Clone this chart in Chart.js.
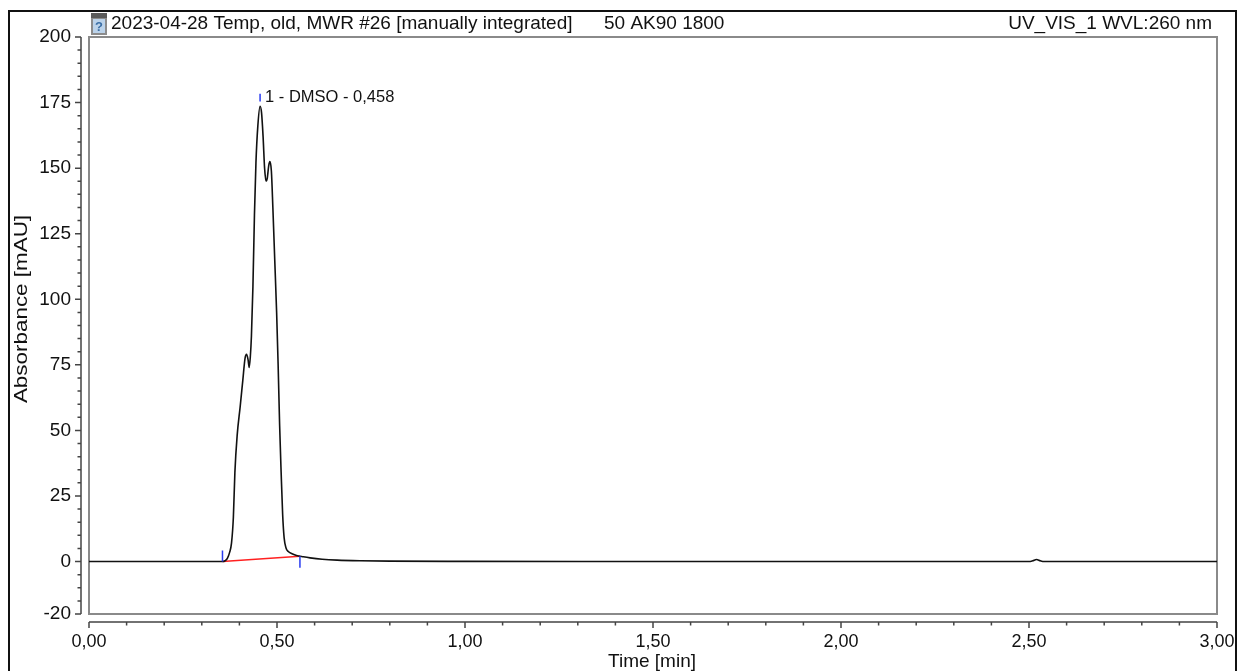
<!DOCTYPE html>
<html><head><meta charset="utf-8">
<script src="https://cdn.jsdelivr.net/npm/chart.js@4.4.1/dist/chart.umd.min.js"></script>
<style>html,body{margin:0;padding:0;background:#fff;overflow:hidden}#wrap{width:1239px;height:671px;position:relative}</style>
</head><body><div id="wrap"><canvas id="c" width="1239" height="671"></canvas></div>
<script>
const titleLeft = "2023-04-28 Temp, old, MWR #26 [manually integrated]";
const titleMid = "50 AK90 1800";
const titleRight = "UV_VIS_1 WVL:260 nm";
const xAxisTitle = "Time [min]";
const yAxisTitle = "Absorbance [mAU]";
const peakLabel = "1 - DMSO - 0,458";

const timeMin = [0, 0.2, 0.30, 0.355, 0.362, 0.368, 0.374, 0.379, 0.384, 0.388, 0.394, 0.402, 0.409, 0.415, 0.419, 0.423, 0.426, 0.429, 0.432, 0.436, 0.440, 0.444, 0.449, 0.455, 0.459, 0.463, 0.467, 0.471, 0.474, 0.478, 0.481, 0.485, 0.489, 0.494, 0.499, 0.503, 0.507, 0.511, 0.515, 0.519, 0.524, 0.530, 0.540, 0.552, 0.570, 0.588, 0.620, 0.660, 0.720, 0.800, 1.000, 1.500, 2.000, 2.500, 2.510, 2.520, 2.530, 2.540, 3.000];
const absorbance = [0, 0, 0, 0, 0.3, 1.2, 3.5, 7, 17, 34, 48, 59, 69, 77.5, 79, 77, 74, 78, 86, 105, 132, 152, 166, 173.6, 171, 162, 150, 145, 146, 151, 152.5, 149, 135, 115, 95, 75, 52, 34, 18, 9, 5.2, 3.8, 3.0, 2.3, 1.8, 1.4, 0.9, 0.55, 0.3, 0.15, 0.05, 0, 0, 0, 0.3, 0.8, 0.3, 0, 0];

const xTickValues = [0, 0.5, 1, 1.5, 2, 2.5, 3];
const yTickValues = [-20, 0, 25, 50, 75, 100, 125, 150, 175, 200];
const baselineTime = [0.355, 0.561];
const baselineAbs = [0, 2.0];
const markerTime = [0.355, 0.455, 0.561];
const markerLow = [0, 175.4, -2.4];
const markerHigh = [4.2, 178.4, 2.0];
const peakLabelAt = [0.455, 177];

const FONT = "'Liberation Sans', Arial, sans-serif";

const markerData = [];
markerTime.forEach((t, i) => {
  markerData.push({x: t, y: markerLow[i]}, {x: t, y: markerHigh[i]}, {x: t, y: null});
});

const decor = {
  id: 'decor',
  beforeDraw(chart) {
    const ctx = chart.ctx, a = chart.chartArea;
    ctx.save();
    ctx.fillStyle = '#fff';
    ctx.fillRect(0, 0, chart.width, chart.height);
    ctx.strokeStyle = '#8a8a8a';
    ctx.lineWidth = 2;
    ctx.strokeRect(a.left, a.top, a.right - a.left, a.bottom - a.top);
    ctx.restore();
  },
  afterDraw(chart) {
    const ctx = chart.ctx, a = chart.chartArea;
    const xs = chart.scales.x, ys = chart.scales.y;
    ctx.save();
    ctx.strokeStyle = '#111';
    ctx.lineWidth = 2;
    ctx.strokeRect(9, 11, 1227, 700);
    ctx.strokeStyle = '#444';
    ctx.lineWidth = 1.5;
    const ax = a.left - 8;
    ctx.beginPath();
    ctx.moveTo(ax, ys.getPixelForValue(ys.max));
    ctx.lineTo(ax, ys.getPixelForValue(ys.min));
    for (let v = ys.min; v <= ys.max + 1e-9; v += 5) {
      const p = ys.getPixelForValue(v);
      const major = yTickValues.includes(v);
      ctx.moveTo(ax, p);
      ctx.lineTo(ax - (major ? 6 : 3.5), p);
    }
    const ay = a.bottom + 8;
    ctx.moveTo(xs.getPixelForValue(xs.min), ay);
    ctx.lineTo(xs.getPixelForValue(xs.max), ay);
    for (let i = 0; i <= 30; i++) {
      const v = i / 10;
      const p = xs.getPixelForValue(v);
      const major = i % 5 === 0;
      ctx.moveTo(p, ay);
      ctx.lineTo(p, ay + (major ? 6 : 3.5));
    }
    ctx.stroke();

    ctx.fillStyle = '#111';
    ctx.font = '19px ' + FONT;
    ctx.textBaseline = 'middle';
    ctx.textAlign = 'left';
    ctx.fillText(titleLeft, 111, 24);
    ctx.fillText(titleMid, 604, 24);
    ctx.textAlign = 'right';
    ctx.fillText(titleRight, 1212, 24);
    ctx.fillStyle = '#8c8c8c';
    ctx.fillRect(91, 13, 16, 22);
    ctx.fillStyle = '#5a5a5a';
    ctx.fillRect(91, 13, 16, 5);
    ctx.fillStyle = '#bcd3ea';
    ctx.fillRect(93, 19, 12, 14);
    ctx.fillStyle = '#3a6ea5';
    ctx.font = 'bold 13px ' + FONT;
    ctx.textAlign = 'center';
    ctx.fillText('?', 99, 27);

    ctx.fillStyle = '#111';
    ctx.font = '19px ' + FONT;
    ctx.textAlign = 'center';
    ctx.fillText(xAxisTitle, 652, 662);
    ctx.save();
    ctx.translate(22, 309);
    ctx.rotate(-Math.PI / 2);
    ctx.scale(1.18, 1);
    ctx.fillText(yAxisTitle, 0, 0);
    ctx.restore();

    ctx.font = '16.5px ' + FONT;
    ctx.textAlign = 'left';
    ctx.fillText(peakLabel, xs.getPixelForValue(peakLabelAt[0]) + 5, ys.getPixelForValue(peakLabelAt[1]));
    ctx.restore();
  }
};

new Chart(document.getElementById('c'), {
  type: 'line',
  data: {
    datasets: [
      {
        label: 'baseline',
        data: baselineTime.map((t, i) => ({x: t, y: baselineAbs[i]})),
        borderColor: '#ff2020',
        borderWidth: 1.5,
        pointRadius: 0,
        tension: 0,
        order: 2
      },
      {
        label: 'chromatogram',
        data: timeMin.map((t, i) => ({x: t, y: absorbance[i]})),
        borderColor: '#111',
        borderWidth: 1.6,
        pointRadius: 0,
        cubicInterpolationMode: 'monotone',
        order: 1
      },
      {
        label: 'markers',
        data: markerData,
        borderColor: '#2a3cf0',
        borderWidth: 1.5,
        pointRadius: 0,
        spanGaps: false,
        tension: 0,
        order: 0
      }
    ]
  },
  options: {
    responsive: false,
    animation: false,
    devicePixelRatio: 1,
    layout: {padding: {left: 0, top: 37, right: 22, bottom: 0}},
    plugins: {legend: {display: false}, tooltip: {enabled: false}, title: {display: false}},
    scales: {
      x: {
        type: 'linear', min: 0, max: 3,
        grid: {display: false, drawTicks: false},
        border: {display: false},
        afterBuildTicks: s => { s.ticks = xTickValues.map(v => ({value: v})); },
        afterFit: s => { s.height = 57; s.paddingLeft = 0; s.paddingRight = 0; },
        ticks: {
          padding: 17,
          color: '#111',
          font: {family: FONT, size: 18},
          maxRotation: 0,
          callback: v => Number(v).toFixed(2).replace('.', ',')
        }
      },
      y: {
        type: 'linear', min: -20, max: 200,
        grid: {display: false, drawTicks: false},
        border: {display: false},
        afterBuildTicks: s => { s.ticks = yTickValues.map(v => ({value: v})); },
        afterFit: s => { s.width = 89; s.paddingTop = 0; s.paddingBottom = 0; },
        ticks: {
          padding: 18,
          color: '#111',
          font: {family: FONT, size: 19},
          callback: v => String(v)
        }
      }
    }
  },
  plugins: [decor]
});
</script>
</body></html>
